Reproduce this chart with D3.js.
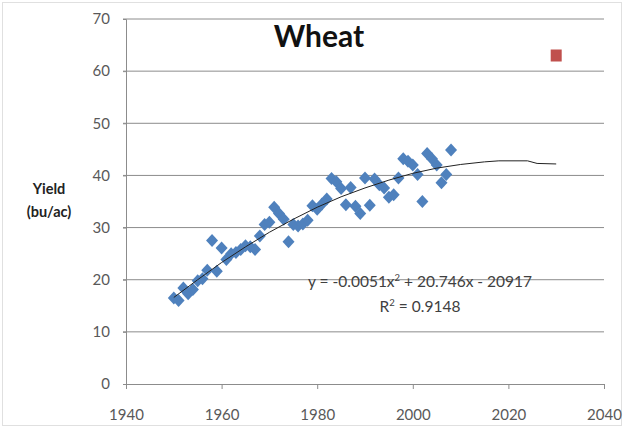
<!DOCTYPE html>
<html>
<head>
<meta charset="utf-8">
<script src="https://cdn.jsdelivr.net/npm/d3@7"></script>
<style>
  body { margin: 0; background: #fff; }
  svg text { font-family: Lato, "Open Sans", sans-serif; }
</style>
</head>
<body>
<div id="chart"></div>
<script>
// observed yields, 1950-2008
const years = d3.range(1950, 2009);
const yields = [16.5, 16.0, 18.4, 17.3, 18.1, 19.8, 20.2, 21.8, 27.5, 21.6,
  26.1, 23.9, 25.0, 25.2, 25.8, 26.5, 26.3, 25.8, 28.4, 30.6,
  31.0, 33.9, 32.7, 31.6, 27.3, 30.6, 30.3, 30.7, 31.4, 34.2,
  33.5, 34.5, 35.5, 39.4, 38.8, 37.5, 34.4, 37.7, 34.1, 32.7,
  39.5, 34.3, 39.3, 38.2, 37.6, 35.8, 36.3, 39.5, 43.2, 42.7,
  42.0, 40.2, 35.0, 44.2, 43.2, 42.0, 38.6, 40.2, 44.9];

// projected point
const targetYear = [2030];
const targetYield = [63];

// trend line as drawn
const trendYears = [1950, 1955, 1960, 1965, 1970, 1975, 1980, 1985, 1990, 1995, 2000, 2005, 2010, 2015, 2018, 2024, 2026, 2030];
const trendVals = [16.6, 20.0, 23.3, 26.3, 29.1, 31.6, 33.9, 35.9, 37.6, 39.1, 40.4, 41.4, 42.1, 42.6, 42.8, 42.8, 42.3, 42.2];

const xTicks = [1940, 1960, 1980, 2000, 2020, 2040];
const yTicks = [0, 10, 20, 30, 40, 50, 60, 70];

const width = 624, height = 428;
const margin = { top: 19, right: 20, bottom: 44, left: 126 };
const iw = width - margin.left - margin.right;
const ih = height - margin.top - margin.bottom;

const svg = d3.select("#chart").append("svg")
  .attr("width", width).attr("height", height);

// outer frame
svg.append("rect")
  .attr("x", 2.5).attr("y", 2.5)
  .attr("width", width - 5).attr("height", height - 5)
  .attr("fill", "none").attr("stroke", "#e0e0e0");

const g = svg.append("g").attr("transform", `translate(${margin.left},${margin.top})`);

const x = d3.scaleLinear().domain([1940, 2040]).range([0, iw]);
const y = d3.scaleLinear().domain([0, 70]).range([ih, 0]);

// gridlines
g.selectAll(".grid").data(yTicks.filter(d => d > 0)).enter()
  .append("line")
  .attr("x1", -3).attr("x2", iw)
  .attr("y1", d => y(d)).attr("y2", d => y(d))
  .attr("stroke", "#8c8c8c").attr("stroke-width", 1);

// y axis
const yAxis = g.append("g")
  .call(d3.axisLeft(y).tickValues(yTicks).tickSize(3).tickPadding(13));
yAxis.select(".domain").attr("stroke", "#8c8c8c");
yAxis.selectAll(".tick line").attr("stroke", "#8c8c8c");
yAxis.selectAll("text").attr("fill", "#595959").attr("font-size", 15)
  .style("font-family", "Lato, sans-serif");

// x axis
const xAxis = g.append("g").attr("transform", `translate(0,${ih})`)
  .call(d3.axisBottom(x).tickValues(xTicks).tickFormat(d3.format("d")).tickSize(5).tickPadding(20));
xAxis.select(".domain").attr("stroke", "#8c8c8c");
xAxis.selectAll(".tick line").attr("stroke", "#8c8c8c");
xAxis.selectAll("text").attr("fill", "#595959").attr("font-size", 15)
  .style("font-family", "Lato, sans-serif");

// diamonds
const diamond = "M0,-6.5L6,0L0,6.5L-6,0Z";
g.selectAll(".pt").data(years).enter()
  .append("path")
  .attr("d", diamond)
  .attr("transform", (d, i) => `translate(${x(d)},${y(yields[i])})`)
  .attr("fill", "#4f81bd");

// trend line
const line = d3.line().x(d => x(d[0])).y(d => y(d[1]));
g.append("path")
  .datum(trendYears.map((d, i) => [d, trendVals[i]]))
  .attr("d", line)
  .attr("fill", "none").attr("stroke", "#222").attr("stroke-width", 1);

// projected square
g.selectAll(".tgt").data(targetYear).enter()
  .append("rect")
  .attr("x", d => x(d) - 5.5).attr("y", (d, i) => y(targetYield[i]) - 6)
  .attr("width", 11).attr("height", 12)
  .attr("fill", "#c0504d");

// title
svg.append("text")
  .attr("x", 319).attr("y", 47)
  .attr("text-anchor", "middle")
  .attr("font-size", 30).attr("font-weight", "bold").attr("fill", "#111")
  .text("Wheat");

// y label
const yl = svg.append("text")
  .attr("text-anchor", "middle").attr("font-size", 14.5).attr("font-weight", "bold").attr("fill", "#222");
yl.append("tspan").attr("x", 49).attr("y", 194).text("Yield");
yl.append("tspan").attr("x", 49).attr("y", 217).text("(bu/ac)");

// equation
const eq = svg.append("text")
  .attr("x", 420).attr("y", 287)
  .attr("text-anchor", "middle").attr("font-size", 15.5).attr("fill", "#404040");
eq.append("tspan").text("y = -0.0051x");
eq.append("tspan").attr("font-size", 9.5).attr("dy", -6).text("2");
eq.append("tspan").attr("dy", 6).text(" + 20.746x - 20917");

const r2 = svg.append("text")
  .attr("x", 420).attr("y", 312)
  .attr("text-anchor", "middle").attr("font-size", 15.5).attr("fill", "#404040");
r2.append("tspan").text("R");
r2.append("tspan").attr("font-size", 9.5).attr("dy", -6).text("2");
r2.append("tspan").attr("dy", 6).text(" = 0.9148");
</script>
</body>
</html>
